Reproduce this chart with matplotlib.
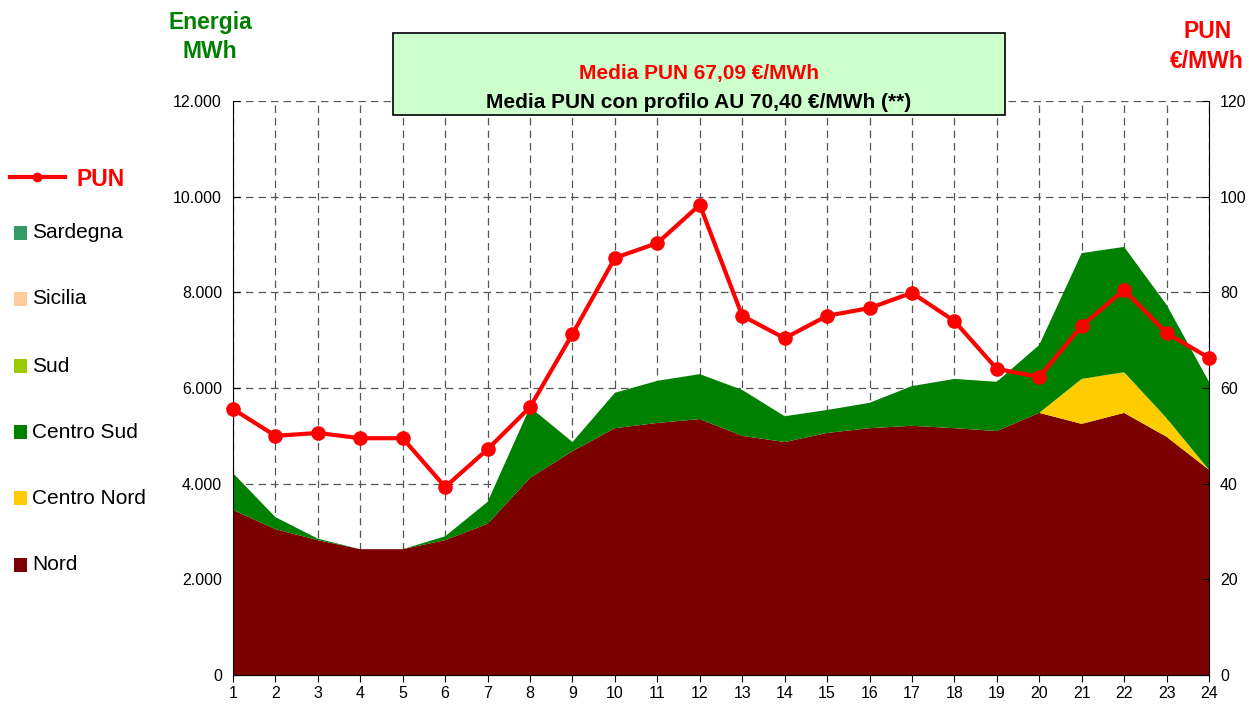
import numpy as np
import matplotlib
matplotlib.use("Agg")
import matplotlib.pyplot as plt
from matplotlib.lines import Line2D
from matplotlib.patches import Rectangle
from matplotlib.ticker import FuncFormatter

plt.rcParams["font.family"] = ["Liberation Sans", "DejaVu Sans"]

# ── dati ────────────────────────────────────────────────────────────────────
ore = list(range(1, 25))

nord = [3450, 3050, 2820, 2630, 2630, 2820, 3160, 4120, 4680, 5160, 5270, 5350,
        5000, 4870, 5060, 5160, 5210, 5160, 5100, 5480, 5250, 5480, 4980, 4290]
centro_nord = [0, 0, 0, 0, 0, 0, 0, 0, 0, 0, 0, 0,
               0, 0, 0, 0, 0, 0, 0, 0, 940, 850, 390, 0]
centro_sud = [770, 250, 30, 0, 0, 80, 460, 1480, 190, 740, 880, 940,
              960, 540, 480, 530, 830, 1030, 1030, 1420, 2630, 2620, 2370, 1840]
sud = [0] * 24
sicilia = [0] * 24
sardegna = [0] * 24

pun = [55.6, 50.0, 50.6, 49.5, 49.5, 39.3, 47.2, 56.0, 71.3, 87.2, 90.3, 98.3,
       75.1, 70.4, 75.1, 76.7, 79.9, 74.0, 64.0, 62.3, 73.0, 80.5, 71.5, 66.3]

zone = ["Nord", "Centro Nord", "Centro Sud", "Sud", "Sicilia", "Sardegna"]
serie = [nord, centro_nord, centro_sud, sud, sicilia, sardegna]
colori = ["#7B0000", "#FFCC00", "#008000", "#99CC00", "#FFCC99", "#339966"]

ROSSO = "#FF0000"
VERDE = "#008000"

# ── figura ──────────────────────────────────────────────────────────────────
fig = plt.figure(figsize=(12.53, 7.09), dpi=100)
ax = fig.add_axes([233 / 1253, 34 / 709, 976 / 1253, 574 / 709])

ax.stackplot(ore, *serie, colors=colori, linewidth=0, zorder=2)
ax.set_xlim(1, 24)
ax.set_ylim(0, 12000)
ax.set_xticks(ore)
ax.set_yticks(range(0, 12001, 2000))
ax.yaxis.set_major_formatter(FuncFormatter(lambda v, p: f"{int(v):,}".replace(",", ".")))
ax.grid(True, color="#555555", linestyle=(0, (6, 4)), linewidth=0.9, zorder=0)
ax.set_axisbelow(True)
ax.spines["top"].set_visible(False)
ax.spines["right"].set_visible(False)
ax.tick_params(axis="x", direction="out", length=5, labelsize=11.5, pad=3)
ax.tick_params(axis="y", direction="in", length=5, labelsize=11.5, pad=8)

ax2 = ax.twinx()
ax2.plot(ore, pun, color=ROSSO, linewidth=3, marker="o", markersize=9.5,
         zorder=5, clip_on=False)
ax2.set_ylim(0, 120)
ax2.set_yticks(range(0, 121, 20))
ax2.spines["top"].set_visible(False)
ax2.spines["left"].set_visible(False)
ax2.tick_params(axis="y", direction="in", length=5, labelsize=11.5, pad=8)


def fx(px):
    return px / 1253


def fy(py):
    return 1 - py / 709


# ── titoli degli assi ───────────────────────────────────────────────────────
fig.text(fx(210), fy(22), "Energia", color=VERDE, fontsize=16.5,
         fontweight="bold", ha="center", va="center")
fig.text(fx(210), fy(52), "MWh", color=VERDE, fontsize=16.5,
         fontweight="bold", ha="center", va="center")
fig.text(fx(1208), fy(31), "PUN", color=ROSSO, fontsize=16.5,
         fontweight="bold", ha="center", va="center")
fig.text(fx(1207), fy(61), "€/MWh", color=ROSSO, fontsize=16.5,
         fontweight="bold", ha="center", va="center")

# ── riquadro medie ──────────────────────────────────────────────────────────
box = Rectangle((fx(393), fy(115)), 612 / 1253, 82 / 709,
                transform=fig.transFigure, facecolor="#CCFFCC",
                edgecolor="black", linewidth=1.2, zorder=10)
fig.add_artist(box)
fig.text(fx(699), fy(74), "Media PUN 67,09 €/MWh", color=ROSSO,
         fontsize=15, fontweight="bold", ha="center", va="center", zorder=11)
fig.text(fx(699), fy(102), "Media PUN con profilo AU 70,40 €/MWh (**)",
         color="black", fontsize=15, fontweight="bold", ha="center", va="center",
         zorder=11)

# ── legenda ─────────────────────────────────────────────────────────────────
fig.add_artist(Line2D([fx(10), fx(65)], [fy(177), fy(177)], color=ROSSO,
                      linewidth=3, transform=fig.transFigure))
fig.add_artist(Line2D([fx(37)], [fy(177)], color=ROSSO, marker="o",
                      markersize=6, transform=fig.transFigure))
fig.text(fx(77), fy(179), "PUN", color=ROSSO, fontsize=16.5, fontweight="bold",
         va="center", ha="left")

leg_y = [233, 299, 366, 432, 498, 565]
for (nome, col), yy in zip(reversed(list(zip(zone, colori))), leg_y):
    fig.add_artist(Rectangle((fx(14), fy(yy + 7)), 13 / 1253, 14 / 709,
                             transform=fig.transFigure, facecolor=col,
                             edgecolor="none"))
    fig.text(fx(32), fy(yy), nome, fontsize=15, va="center", ha="left")

fig.savefig("out.png", dpi=100)
